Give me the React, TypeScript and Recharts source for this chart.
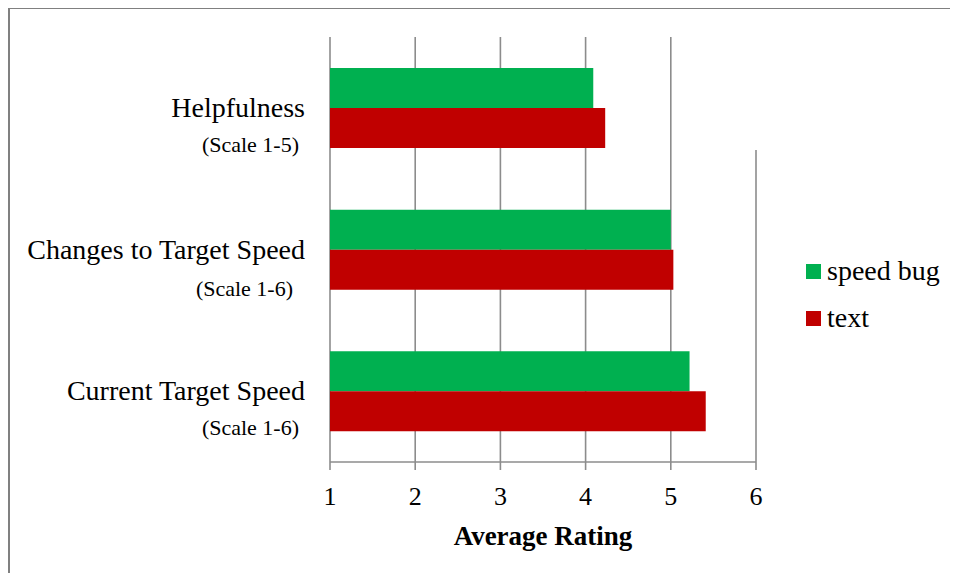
import React from 'react';
import { BarChart, Bar, XAxis, YAxis, CartesianGrid, Legend, Label } from 'recharts';

const CATEGORIES = ['Helpfulness', 'Changes to Target Speed', 'Current Target Speed'];
const SCALES = ['(Scale 1-5)', '(Scale 1-6)', '(Scale 1-6)'];
const SPEED_BUG = [4.09, 5.0, 5.22];
const TEXT_VALUES = [4.23, 5.03, 5.41];
const X_TICKS = [1, 2, 3, 4, 5, 6];
const SERIES = [
  { key: 'speedBug', name: 'speed bug', color: '#00B050' },
  { key: 'text', name: 'text', color: '#C00000' },
];

const data = CATEGORIES.map((name, i) => ({
  name,
  speedBug: SPEED_BUG[i],
  text: TEXT_VALUES[i],
}));

const FONT = '"Liberation Serif", "Times New Roman", serif';
const GRID = '#8c8c8c';

const YTick = (props: any) => {
  const { x, y, payload } = props;
  const i = CATEGORIES.indexOf(payload.value);
  const shift = i === 1 ? -6 : 0;
  const drop = i === 1 ? 2 : 0;
  return (
    <g>
      <text x={x - 25} y={y + 9} textAnchor="end" fontSize={28} fill="#000" fontFamily={FONT}>
        {payload.value}
      </text>
      <text x={x - 31 + shift} y={y + 44 + drop} textAnchor="end" fontSize={22} fill="#000" fontFamily={FONT}>
        {SCALES[i]}
      </text>
    </g>
  );
};

const XTick = (props: any) => {
  const { x, y, payload } = props;
  return (
    <text x={x} y={y + 35} textAnchor="middle" fontSize={26} fill="#000" fontFamily={FONT}>
      {payload.value}
    </text>
  );
};

const GridLine = (props: any) => {
  const { x1, y1, x2, y2, index } = props;
  const start = index === X_TICKS.length - 1 ? y1 + (y2 - y1) * 0.266 : y1;
  return <line key={`g-${index}-${x1}`} x1={x1} y1={start} x2={x2} y2={y2} stroke={GRID} strokeWidth={1.6} />;
};

const LegendContent = () => (
  <svg width={150} height={90} style={{ display: 'block', overflow: 'visible' }}>
    {SERIES.map((s, i) => (
      <g key={s.key}>
        <rect x={0} y={7 + i * 47} width={15} height={15} fill={s.color} />
        <text x={21} y={23 + i * 47} fontSize={28} fill="#000" fontFamily={FONT}>
          {s.name}
        </text>
      </g>
    ))}
  </svg>
);

export default function App() {
  return (
    <div
      style={{
        marginTop: -1,
        width: 948,
        height: 564,
        borderTop: '2px solid #808080',
        borderLeft: '2px solid #808080',
        position: 'relative',
        fontFamily: FONT,
        background: '#fff',
      }}
    >
      <BarChart
        width={946}
        height={564}
        data={data}
        layout="vertical"
        margin={{ top: 28, right: 50, left: 0, bottom: 11 }}
        barGap={0}
        barSize={40}
      >
        <CartesianGrid horizontal={false} vertical={GridLine} />
        <XAxis
          type="number"
          domain={[1, 6]}
          ticks={X_TICKS}
          allowDataOverflow
          height={100}
          tickSize={8}
          tickMargin={0}
          axisLine={{ stroke: GRID, strokeWidth: 1.6 }}
          tickLine={{ stroke: GRID, strokeWidth: 1.6 }}
          tick={<XTick />}
        >
          <Label
            content={(p: any) => {
              const vb = p.viewBox;
              return (
                <text
                  x={vb.x + vb.width / 2}
                  y={vb.y + 83}
                  textAnchor="middle"
                  fontSize={27}
                  fontWeight="bold"
                  fill="#000"
                  fontFamily={FONT}
                >
                  Average Rating
                </text>
              );
            }}
          />
        </XAxis>
        <YAxis
          type="category"
          dataKey="name"
          width={320}
          tickSize={0}
          tickMargin={0}
          axisLine={false}
          tickLine={false}
          tick={<YTick />}
        />
        <Legend
          layout="vertical"
          align="right"
          verticalAlign="middle"
          content={<LegendContent />}
          wrapperStyle={{ position: 'absolute', left: 796, top: 248, width: 150, height: 90 }}
        />
        {SERIES.map((s) => (
          <Bar key={s.key} dataKey={s.key} name={s.name} fill={s.color} isAnimationActive={false} />
        ))}
      </BarChart>
    </div>
  );
}
